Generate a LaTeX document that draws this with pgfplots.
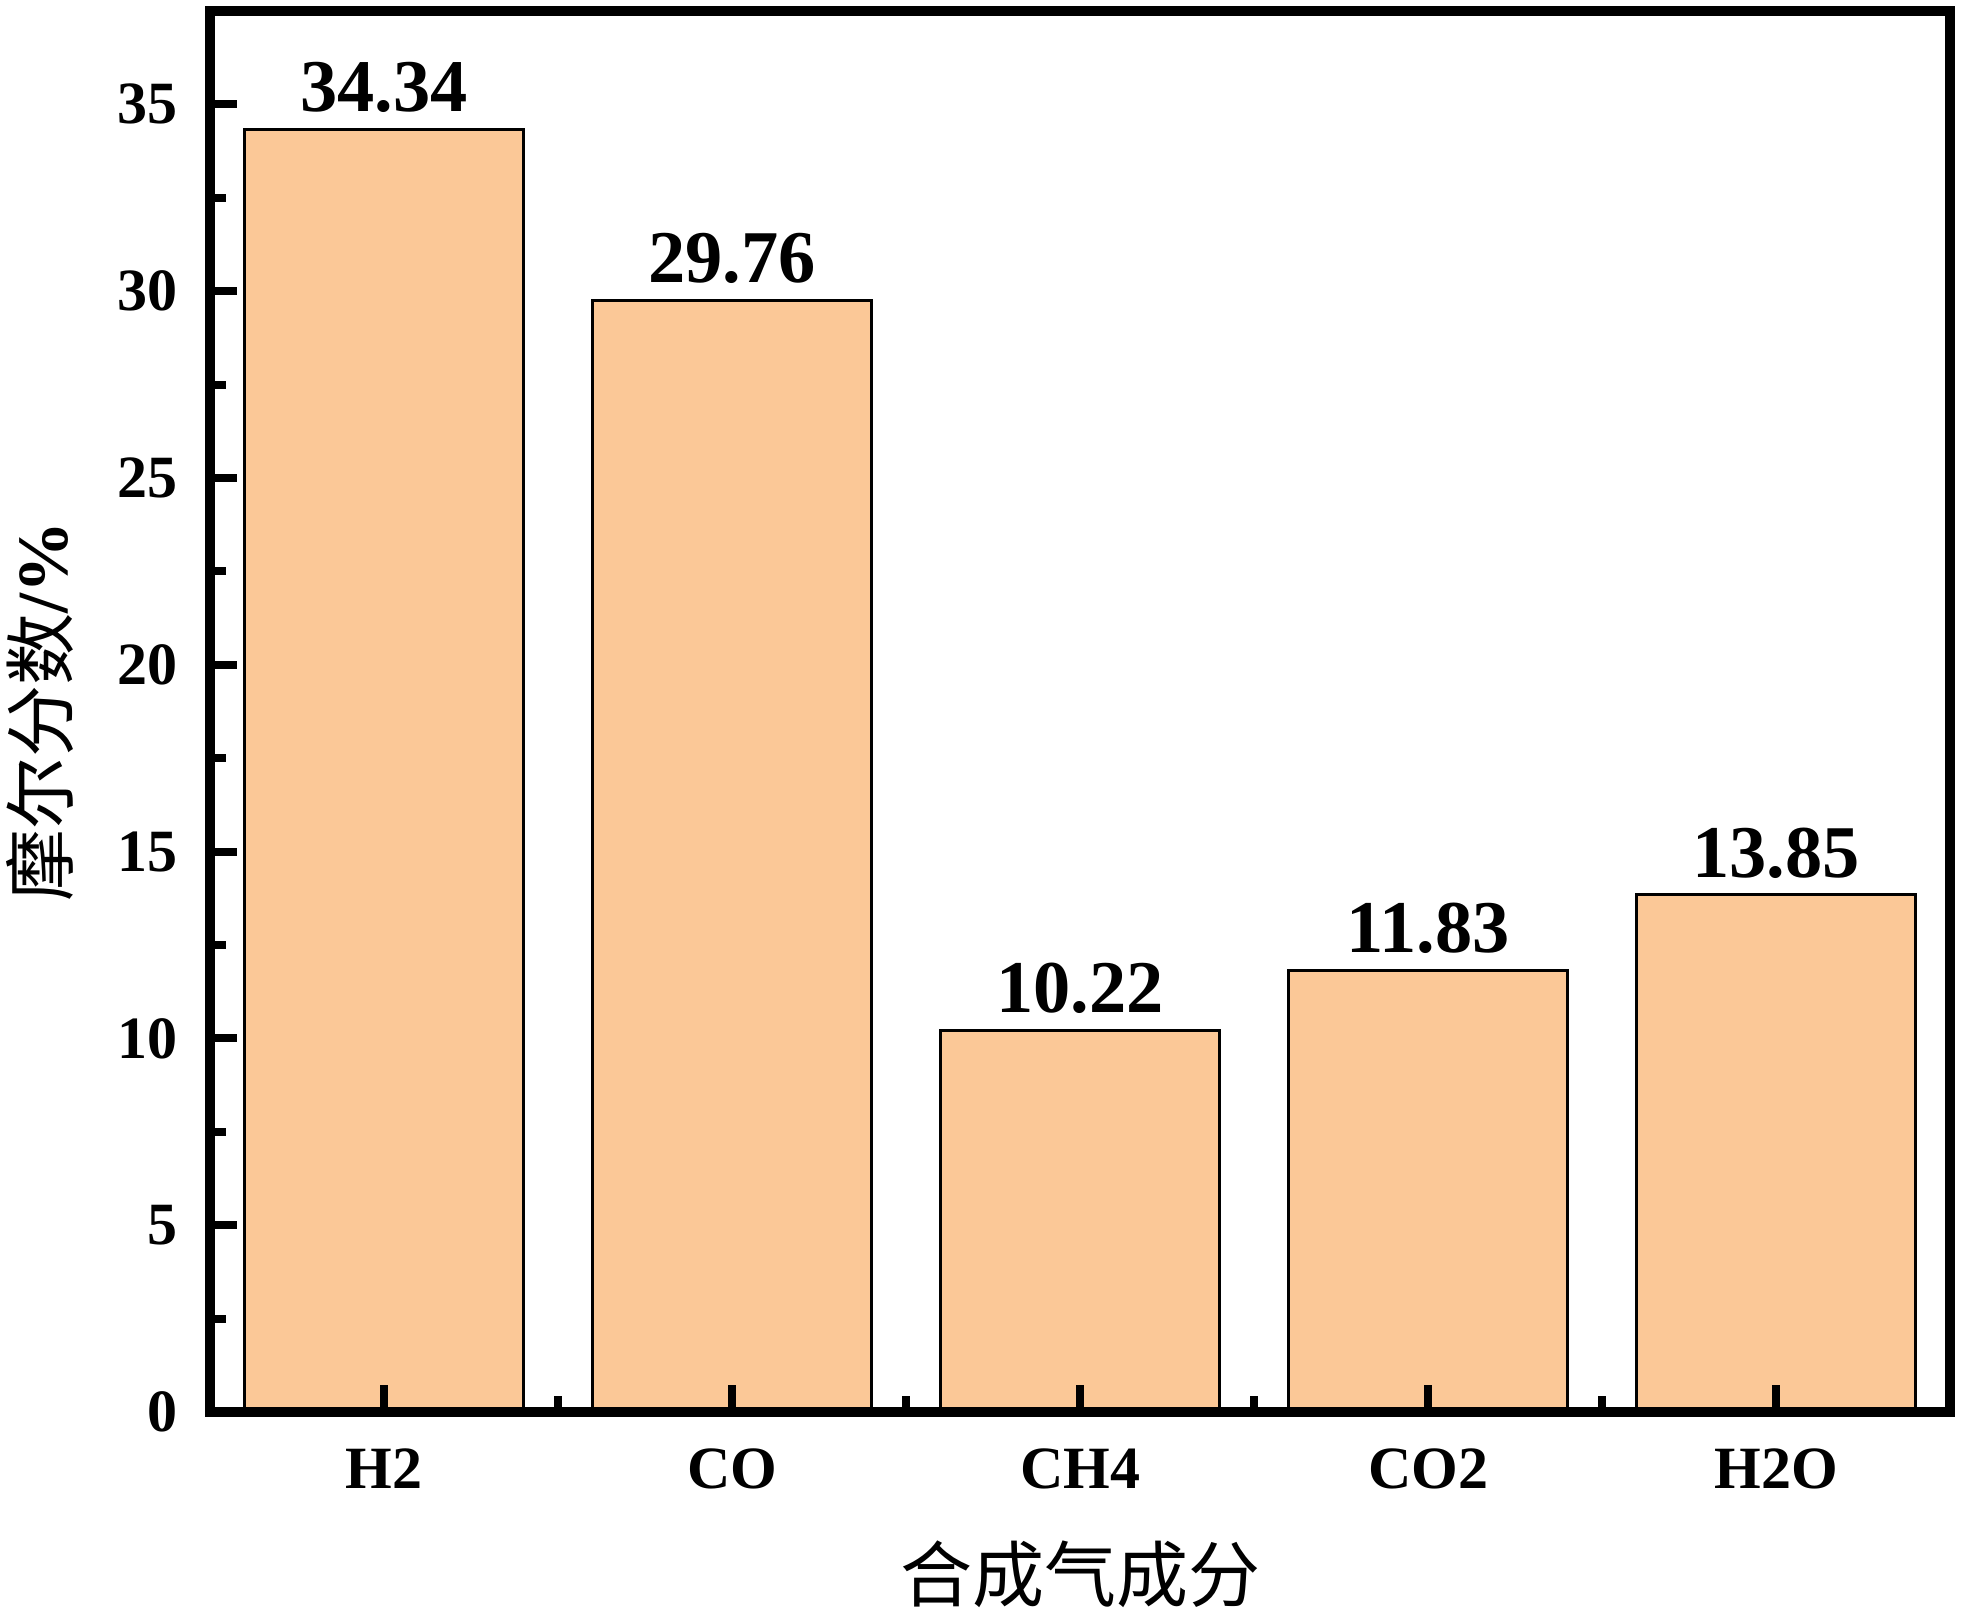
\documentclass[border=0pt]{standalone}
\usepackage{fontspec}
\setmainfont{Liberation Serif}
\newfontfamily\cjk{Noto Sans CJK SC}
\usepackage{pgfplots}
\pgfplotsset{compat=1.18}
\usepackage{pgfplotstable}
\definecolor{barfill}{RGB}{251,200,151}
\pgfplotstableread{
x y lab
0 34.34 34.34
1 29.76 29.76
2 10.22 10.22
3 11.83 11.83
4 13.85 13.85
}\datatab
\begin{document}
\begin{tikzpicture}
\useasboundingbox (-52.5pt,-52.5pt) rectangle (439.25pt,353pt);
\begin{axis}[
  at={(0,0)}, anchor=south west,
  scale only axis, width=435pt, height=350.25pt,
  xmin=-0.5, xmax=4.5, ymin=0, ymax=37.5,
  axis on top,
  axis line style={line width=2.4pt, black},
  tick align=inside, tick pos=left,
  major tick length=6.75pt, minor tick length=4pt,
  every tick/.style={line width=2pt, black},
  every minor tick/.style={line width=2pt, black},
  xtick={0,1,2,3,4},
  xticklabels={H2,CO,CH4,CO2,H2O},
  minor xtick={0.5,1.5,2.5,3.5},
  ytick={0,5,10,15,20,25,30,35},
  minor y tick num=1,
  /pgf/number format/assume math mode=true,
  ticklabel style={font=\fontsize{15}{17}\selectfont\bfseries, inner sep=0pt},
  yticklabel style={xshift=-8pt},
  xticklabel style={yshift=-9pt},
  ylabel={{\cjk 摩尔分数}\textbf{/\%}},
  ylabel style={at={(axis description cs:-0.0977,0.5)}, anchor=center, font=\fontsize{18}{20}\selectfont},
  xlabel={{\cjk 合成气成分}},
  xlabel style={at={(axis description cs:0.5,-0.116)}, anchor=center, font=\fontsize{18}{20}\selectfont},
]
\addplot[ybar, bar width=0.8, fill=barfill, draw=black, line width=0.75pt,
  nodes near coords, point meta=explicit symbolic,
  nodes near coords style={font=\fontsize{18.6}{21}\selectfont\bfseries, inner sep=0pt, anchor=south, yshift=3.75pt}]
  table[x=x, y=y, meta=lab] {\datatab};
\end{axis}
\end{tikzpicture}
\end{document}
